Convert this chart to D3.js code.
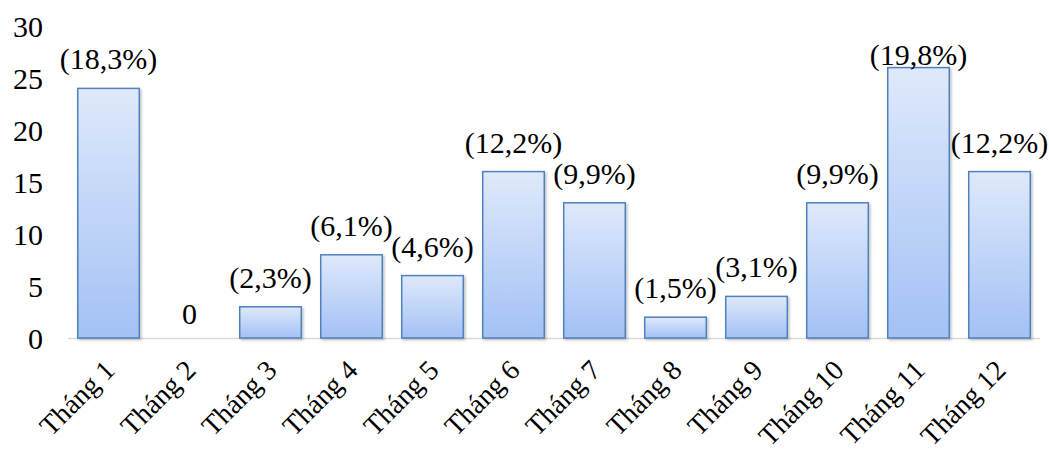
<!DOCTYPE html>
<html>
<head>
<meta charset="utf-8">
<script src="https://cdn.jsdelivr.net/npm/d3@7"></script>
<style>
body{margin:0;background:#fff;}
text{font-family:"Liberation Serif","Times New Roman",serif;fill:#000;}
</style>
</head>
<body>
<div id="chart"></div>
<script>
var months = ['Tháng 1','Tháng 2','Tháng 3','Tháng 4','Tháng 5','Tháng 6','Tháng 7','Tháng 8','Tháng 9','Tháng 10','Tháng 11','Tháng 12'];
var counts = [24,0,3,8,6,16,13,2,4,13,26,16];
var pctLabels = ['(18,3%)','0','(2,3%)','(6,1%)','(4,6%)','(12,2%)','(9,9%)','(1,5%)','(3,1%)','(9,9%)','(19,8%)','(12,2%)'];
var yTicks = [0,5,10,15,20,25,30];

var W = 1049, H = 458;
var fs = 30;

var svg = d3.select('#chart').append('svg')
	.attr('width',W).attr('height',H);

var defs = svg.append('defs');
var grad = defs.append('linearGradient')
	.attr('id','barGrad').attr('x1',0).attr('y1',0).attr('x2',0).attr('y2',1);
grad.append('stop').attr('offset','0%').attr('stop-color','#dfe9fb');
grad.append('stop').attr('offset','100%').attr('stop-color','#a3c1f5');
var filt = defs.append('filter').attr('id','shadow')
	.attr('x','-10%').attr('y','-10%').attr('width','130%').attr('height','130%');
filt.append('feDropShadow').attr('dx',1.5).attr('dy',1.5).attr('stdDeviation',1.2)
	.attr('flood-color','#000').attr('flood-opacity',0.25);

var x = d3.scaleBand().domain(months).range([68,1040])
	.paddingInner(0.24).paddingOuter(0.12);
var y = d3.scaleLinear().domain([0,30]).range([338,26]);

// y axis labels only
svg.selectAll('.ytick')
	.data(yTicks).enter()
	.append('text')
		.attr('class','ytick')
		.attr('x',43)
		.attr('y',function(d){return y(d);})
		.attr('dy','0.35em')
		.attr('text-anchor','end')
		.style('font-size',fs+'px')
		.text(function(d){return d;});

// x axis baseline
svg.append('line')
	.attr('x1',68).attr('x2',1040)
	.attr('y1',y(0)+0.5).attr('y2',y(0)+0.5)
	.attr('stroke','#d9d9d9').attr('stroke-width',1.5);

var data = months.map(function(m,i){return {m:m,v:counts[i],lab:pctLabels[i]};});

svg.selectAll('.bar')
	.data(data.filter(function(d){return d.v>0;})).enter()
	.append('rect')
		.attr('class','bar')
		.attr('x',function(d){return x(d.m);})
		.attr('y',function(d){return y(d.v);})
		.attr('width',x.bandwidth())
		.attr('height',function(d){return y(0)-y(d.v);})
		.attr('fill','url(#barGrad)')
		.attr('stroke','#4f81bd')
		.attr('stroke-width',1.5)
		.attr('filter','url(#shadow)');

svg.selectAll('.vlabel')
	.data(data).enter()
	.append('text')
		.attr('class','vlabel')
		.attr('x',function(d){return x(d.m)+x.bandwidth()/2;})
		.attr('y',function(d){return d.v===0 ? y(0)-14 : Math.max(y(d.v)-19,65);})
		.attr('text-anchor','middle')
		.style('font-size',fs+'px')
		.text(function(d){return d.lab;});

svg.selectAll('.xlabel')
	.data(months).enter()
	.append('text')
		.attr('class','xlabel')
		.attr('transform',function(d){
			return 'translate('+(x(d)+x.bandwidth()/2-6)+','+358+') rotate(-45)';})
		.attr('dy','0.7em')
		.attr('text-anchor','end')
		.style('font-size','28px')
		.text(function(d){return d;});
</script>
</body>
</html>
